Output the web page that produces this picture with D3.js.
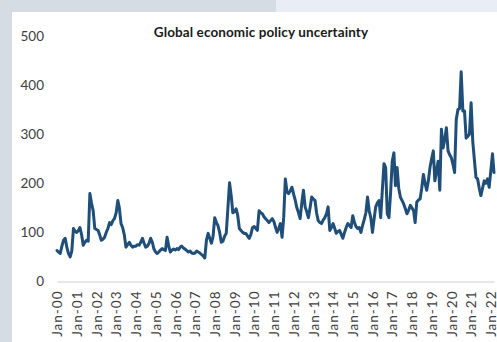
<!DOCTYPE html>
<html>
<head>
<meta charset="utf-8">
<script src="https://cdn.jsdelivr.net/npm/d3@7"></script>
<style>
  html, body { margin: 0; padding: 0; background: #d5dce4; }
  svg { display: block; }
</style>
</head>
<body>
<svg id="chart" width="497" height="342"></svg>
<script>
// Global economic policy uncertainty index, monthly, Jan 2000 onwards
const chartTitle = "Global economic policy uncertainty";
const firstMonth = new Date(2000, 0, 1);

const epu2000 = [63, 60, 57, 72, 84, 88, 70, 57, 50, 62, 108, 102];
const epu2001 = [100, 104, 110, 95, 74, 80, 84, 82, 179, 160, 144, 108];
const epu2002 = [106, 104, 95, 84, 86, 90, 100, 108, 120, 116, 124, 128];
const epu2003 = [140, 165, 150, 118, 110, 95, 70, 75, 80, 74, 70, 72];
const epu2004 = [72, 75, 74, 80, 88, 78, 70, 72, 78, 88, 80, 66];
const epu2005 = [60, 57, 60, 64, 67, 65, 63, 90, 72, 60, 64, 66];
const epu2006 = [64, 67, 65, 70, 72, 68, 66, 63, 60, 62, 58, 57];
const epu2007 = [58, 62, 60, 58, 55, 52, 48, 85, 98, 88, 78, 92];
const epu2008 = [130, 120, 114, 100, 80, 82, 92, 98, 150, 201, 175, 140];
const epu2009 = [142, 148, 135, 108, 104, 100, 98, 98, 92, 88, 96, 110];
const epu2010 = [112, 108, 104, 144, 140, 138, 132, 128, 124, 120, 124, 128];
const epu2011 = [122, 110, 100, 108, 118, 90, 130, 209, 182, 179, 185, 192];
const epu2012 = [178, 165, 150, 140, 128, 160, 186, 152, 142, 130, 150, 172];
const epu2013 = [168, 165, 140, 124, 120, 118, 125, 130, 138, 152, 104, 110];
const epu2014 = [118, 108, 98, 102, 104, 96, 88, 100, 110, 118, 114, 110];
const epu2015 = [134, 120, 112, 108, 110, 100, 114, 126, 140, 172, 144, 130];
const epu2016 = [100, 128, 152, 160, 165, 130, 185, 240, 232, 138, 130, 180];
const epu2017 = [245, 262, 195, 232, 190, 172, 165, 158, 148, 138, 145, 155];
const epu2018 = [150, 144, 120, 162, 166, 168, 190, 218, 200, 186, 205, 232];
const epu2019 = [250, 266, 205, 225, 245, 186, 310, 272, 290, 313, 266, 258];
const epu2020 = [252, 238, 222, 330, 350, 352, 427, 347, 347, 292, 296, 300];
const epu2021 = [364, 285, 250, 212, 209, 190, 175, 190, 205, 200, 209, 192];
const epu2022 = [225, 260, 222];

const yTickValues = [0, 100, 200, 300, 400, 500];
const xTickLabels = ["Jan-00", "Jan-01", "Jan-02", "Jan-03", "Jan-04", "Jan-05",
  "Jan-06", "Jan-07", "Jan-08", "Jan-09", "Jan-10", "Jan-11", "Jan-12", "Jan-13",
  "Jan-14", "Jan-15", "Jan-16", "Jan-17", "Jan-18", "Jan-19", "Jan-20", "Jan-21", "Jan-22"];

const epuValues = [].concat(epu2000, epu2001, epu2002, epu2003, epu2004, epu2005,
  epu2006, epu2007, epu2008, epu2009, epu2010, epu2011, epu2012, epu2013, epu2014,
  epu2015, epu2016, epu2017, epu2018, epu2019, epu2020, epu2021, epu2022);

const series = epuValues.map((v, i) => ({ date: d3.timeMonth.offset(firstMonth, i), value: v }));
const tickDates = xTickLabels.map((_, i) => d3.timeYear.offset(firstMonth, i));

const svg = d3.select("#chart");
const W = 497, H = 342;
const FONT = "Lato, 'Open Sans', sans-serif";

// backdrop: grey frame, pale top strip on the right, white card
svg.append("rect").attr("x", 0).attr("y", 0).attr("width", W).attr("height", H).attr("fill", "#d5dce4");
svg.append("rect").attr("x", 276).attr("y", 0).attr("width", W - 276).attr("height", 12).attr("fill", "#e9edf5");
svg.append("rect").attr("x", 12).attr("y", 12).attr("width", W - 12).attr("height", H - 12).attr("fill", "#ffffff");

const x = d3.scaleTime()
  .domain([series[0].date, series[series.length - 1].date])
  .range([57, 494]);
const y = d3.scaleLinear().domain([0, 500]).range([281.5, 36]);

// title
svg.append("text")
  .attr("x", 261).attr("y", 37)
  .attr("text-anchor", "middle")
  .attr("font-family", FONT)
  .attr("font-size", 13.5)
  .attr("font-weight", "bold")
  .attr("letter-spacing", 0.1)
  .attr("fill", "#1a1a1a")
  .text(chartTitle);

// y axis: labels only
const yAxis = svg.append("g")
  .attr("transform", "translate(44,0)")
  .call(d3.axisLeft(y).tickValues(yTickValues).tickSize(0).tickPadding(0).tickFormat(d3.format("d")));
yAxis.select(".domain").remove();
yAxis.selectAll("text")
  .attr("font-family", FONT)
  .attr("font-size", 13.5)
  .attr("fill", "#404040");

// x axis with rotated yearly labels
const xAxis = svg.append("g")
  .attr("transform", `translate(0,${y(0)})`)
  .call(d3.axisBottom(x).tickValues(tickDates).tickSize(0).tickFormat((d, i) => xTickLabels[i]));
xAxis.select(".domain").attr("stroke", "#cfcfcf").attr("stroke-width", 1);
xAxis.selectAll("text")
  .attr("font-family", FONT)
  .attr("font-size", 13.5)
  .attr("letter-spacing", 1)
  .attr("fill", "#404040")
  .attr("transform", "rotate(-90)")
  .attr("text-anchor", "end")
  .attr("x", -9)
  .attr("y", 0)
  .attr("dy", "0.35em");

// index line
const line = d3.line().x(d => x(d.date)).y(d => y(d.value));
svg.append("path")
  .datum(series)
  .attr("d", line)
  .attr("fill", "none")
  .attr("stroke", "#1f4e79")
  .attr("stroke-width", 3)
  .attr("stroke-linejoin", "round")
  .attr("stroke-linecap", "round");
</script>
</body>
</html>
